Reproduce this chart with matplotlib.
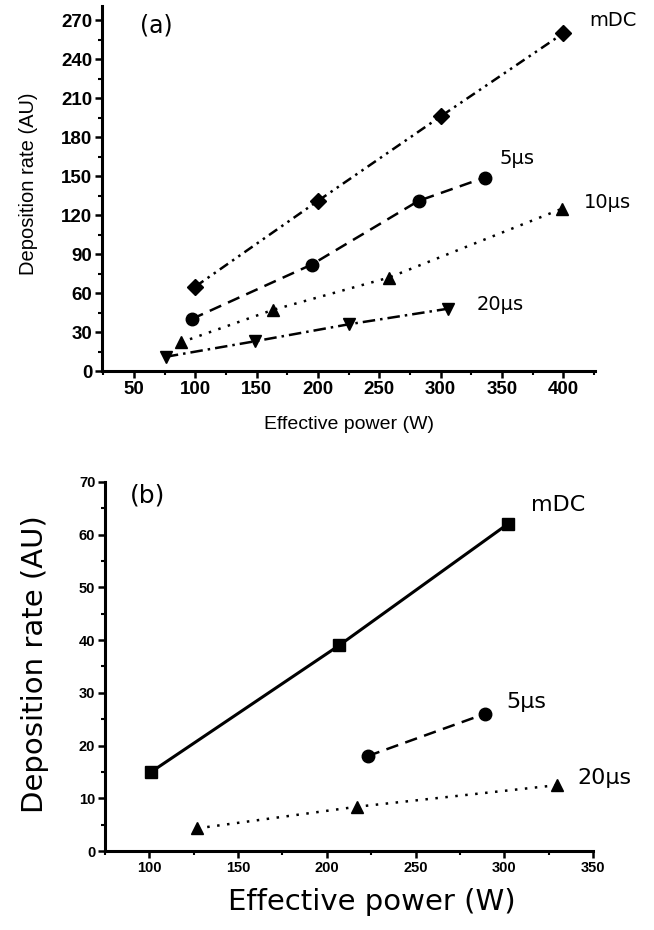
import matplotlib
matplotlib.use("Agg")
import matplotlib.pyplot as plt
from matplotlib.ticker import MultipleLocator

# panel (a) data
a_mdc_x = [100, 200, 300, 400]
a_mdc_y = [65, 131, 196, 260]
a_5us_x = [97, 195, 282, 336]
a_5us_y = [40, 82, 131, 149]
a_10us_x = [88, 163, 258, 399]
a_10us_y = [22, 47, 72, 125]
a_20us_x = [76, 149, 225, 306]
a_20us_y = [11, 23, 36, 48]

# panel (b) data
b_mdc_x = [101, 207, 302]
b_mdc_y = [15, 39, 62]
b_5us_x = [223, 289]
b_5us_y = [18, 26]
b_20us_x = [127, 217, 330]
b_20us_y = [4.3, 8.4, 12.5]

fig = plt.figure(figsize=(6.54, 9.30), dpi=100)

tick_family = "Liberation Sans"
ann_font = "DejaVu Sans"


def style_axes(ax, fs):
    ax.spines["top"].set_visible(False)
    ax.spines["right"].set_visible(False)
    ax.spines["left"].set_linewidth(2.2)
    ax.spines["bottom"].set_linewidth(2.2)
    ax.tick_params(which="major", direction="out", length=5, width=1.8, pad=2)
    ax.tick_params(which="minor", direction="out", length=3, width=1.5)
    for lab in ax.get_xticklabels() + ax.get_yticklabels():
        lab.set_fontfamily(tick_family)
        lab.set_fontweight("bold")
        lab.set_fontsize(fs)


# ---- panel (a)
ax1 = fig.add_axes([0.156, 0.601, 0.754, 0.3925])
ax1.plot(a_mdc_x, a_mdc_y, color="black", lw=1.8, ls=(0, (4, 2, 1, 2, 1, 2)),
         marker="D", ms=8, clip_on=False)
ax1.plot(a_5us_x, a_5us_y, color="black", lw=1.8, ls=(0, (5, 3)),
         marker="o", ms=9, clip_on=False)
ax1.plot(a_10us_x, a_10us_y, color="black", lw=1.8, ls=(0, (1, 3)),
         marker="^", ms=9, clip_on=False)
ax1.plot(a_20us_x, a_20us_y, color="black", lw=1.8, ls=(0, (5, 2, 1, 2)),
         marker="v", ms=9, clip_on=False)
ax1.set_xlim(24, 426)
ax1.set_ylim(0, 281)
ax1.set_xticks([50, 100, 150, 200, 250, 300, 350, 400])
ax1.set_yticks(range(0, 271, 30))
ax1.xaxis.set_minor_locator(MultipleLocator(25))
ax1.yaxis.set_minor_locator(MultipleLocator(15))
style_axes(ax1, 13.5)
ax1.set_xlabel("Effective power (W)", fontsize=14, family=tick_family)
ax1.set_ylabel("Deposition rate (AU)", fontsize=14.5, family=tick_family)
ax1.xaxis.set_label_coords(0.5, -0.123)
ax1.yaxis.set_label_coords(-0.130, 0.512)
ax1.text(0.077, 0.948, "(a)", transform=ax1.transAxes, fontsize=17,
         family=ann_font, va="center")
ax1.text(421, 270, "mDC", fontsize=14, family=ann_font, va="center")
ax1.text(348, 164, "5\u00b5s", fontsize=14, family=ann_font, va="center")
ax1.text(417, 130, "10\u00b5s", fontsize=14, family=ann_font, va="center")
ax1.text(329, 51, "20\u00b5s", fontsize=14, family=ann_font, va="center")

# ---- panel (b)
ax2 = fig.add_axes([0.1606, 0.0849, 0.746, 0.397])
ax2.plot(b_mdc_x, b_mdc_y, color="black", lw=2.2, ls="-",
         marker="s", ms=8, clip_on=False)
ax2.plot(b_5us_x, b_5us_y, color="black", lw=1.8, ls=(0, (5, 3)),
         marker="o", ms=9, clip_on=False)
ax2.plot(b_20us_x, b_20us_y, color="black", lw=1.8, ls=(0, (1, 3)),
         marker="^", ms=9, clip_on=False)
ax2.set_xlim(75, 350)
ax2.set_ylim(0, 70)
ax2.set_xticks([100, 150, 200, 250, 300, 350])
ax2.set_yticks(range(0, 71, 10))
ax2.xaxis.set_minor_locator(MultipleLocator(25))
ax2.yaxis.set_minor_locator(MultipleLocator(5))
style_axes(ax2, 10.5)
ax2.set_xlabel("Effective power (W)", fontsize=21, family=ann_font)
ax2.set_ylabel("Deposition rate (AU)", fontsize=21, family=ann_font)
ax2.xaxis.set_label_coords(0.546, -0.100)
ax2.yaxis.set_label_coords(-0.115, 0.505)
ax2.text(0.051, 0.964, "(b)", transform=ax2.transAxes, fontsize=18,
         family=ann_font, va="center")
ax2.text(315, 65.6, "mDC", fontsize=16, family=ann_font, va="center")
ax2.text(301, 28.2, "5\u00b5s", fontsize=16, family=ann_font, va="center")
ax2.text(341, 13.8, "20\u00b5s", fontsize=16, family=ann_font, va="center")

fig.savefig("out.png", dpi=100)
